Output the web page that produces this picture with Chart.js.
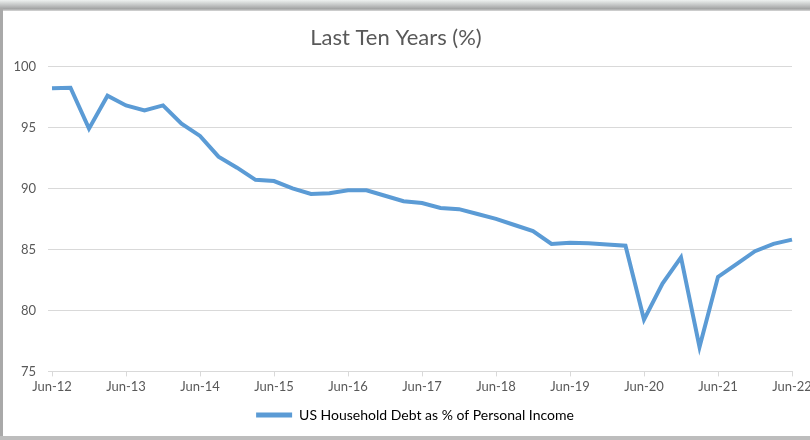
<!DOCTYPE html>
<html>
<head>
<meta charset="utf-8">
<script src="https://cdn.jsdelivr.net/npm/chart.js@4/dist/chart.umd.min.js"></script>
<style>
  body { margin: 0; background: #fff; }
  #wrap { position: relative; width: 810px; height: 440px; overflow: hidden; }
  #topband { position: absolute; left: 0; top: 0; width: 810px; height: 11px;
    background: linear-gradient(#eef1f0, #c4c6c6 45%, #a2a3a3 80%, #d8d8d8); }
  #leftband { position: absolute; left: 0; top: 8px; width: 3px; height: 432px; background: #a9a9a9; }
  #bottomband { position: absolute; left: 0; top: 436px; width: 810px; height: 4px; background: #bdbdbd; }
  canvas { position: absolute; left: 0; top: 0; }
</style>
</head>
<body>
<div id="wrap">
  <canvas id="debtChart" width="810" height="440"></canvas>
  <div id="topband"></div>
  <div id="leftband"></div>
  <div id="bottomband"></div>
</div>
<script>
const quarters = [
  "Jun-12", "Sep-12", "Dec-12", "Mar-13",
  "Jun-13", "Sep-13", "Dec-13", "Mar-14",
  "Jun-14", "Sep-14", "Dec-14", "Mar-15",
  "Jun-15", "Sep-15", "Dec-15", "Mar-16",
  "Jun-16", "Sep-16", "Dec-16", "Mar-17",
  "Jun-17", "Sep-17", "Dec-17", "Mar-18",
  "Jun-18", "Sep-18", "Dec-18", "Mar-19",
  "Jun-19", "Sep-19", "Dec-19", "Mar-20",
  "Jun-20", "Sep-20", "Dec-20", "Mar-21",
  "Jun-21", "Sep-21", "Dec-21", "Mar-22",
  "Jun-22"
];

// household debt as % of personal income, quarterly
const debtPct = [
  98.2, 98.25, 94.9, 97.6,
  96.8, 96.4, 96.8, 95.3,
  94.3, 92.6, 91.7, 90.7,
  90.6, 90.0, 89.55, 89.6,
  89.85, 89.85, 89.4, 88.95,
  88.8, 88.4, 88.3, 87.9,
  87.5, 87.0, 86.5, 85.45,
  85.55, 85.5, 85.4, 85.3,
  79.25, 82.2, 84.35, 77.0,
  82.75, 83.8, 84.85, 85.45,
  85.8
];

const yTicks = [75, 80, 85, 90, 95, 100];
const seriesName = "US Household Debt as % of Personal Income";
const chartTitle = "Last Ten Years (%)";

const lineBlue = "#5b9bd5";
const textGrey = "#595959";
const gridGrey = "#d9d9d9";
const fontFamily = "Lato, 'Open Sans', sans-serif";

// legend sits a little right of the canvas centre
const legendNudge = {
  id: "legendNudge",
  afterLayout(chart) {
    chart.legend.left += 19;
    chart.legend.right += 19;
  },
};

const ctx = document.getElementById("debtChart").getContext("2d");

new Chart(ctx, {
  type: "line",
  data: {
    labels: quarters,
    datasets: [
      {
        label: seriesName,
        data: debtPct,
        borderColor: lineBlue,
        backgroundColor: lineBlue,
        borderWidth: 4,
        pointRadius: 0,
        tension: 0,
      },
    ],
  },
  plugins: [legendNudge],
  options: {
    responsive: false,
    animation: false,
    layout: { padding: { left: 0, right: 18, top: 0, bottom: 8 } },
    plugins: {
      title: {
        display: true,
        text: chartTitle,
        color: textGrey,
        font: { family: fontFamily, size: 22, weight: "normal" },
        padding: { top: 25, bottom: 15 },
      },
      legend: {
        position: "bottom",
        labels: {
          color: textGrey,
          font: { family: fontFamily, size: 14 },
          boxWidth: 36,
          boxHeight: 5,
          padding: 10,
          generateLabels: (chart) => [
            {
              text: seriesName,
              fillStyle: lineBlue,
              strokeStyle: lineBlue,
              lineWidth: 0,
              datasetIndex: 0,
            },
          ],
        },
      },
      tooltip: { enabled: false },
    },
    scales: {
      x: {
        offset: false,
        // let the last label run off the right edge instead of shrinking the plot
        afterFit: (scale) => {
          scale.paddingLeft = 0;
          scale.paddingRight = 0;
        },
        grid: {
          drawOnChartArea: false,
          drawTicks: true,
          tickLength: 5,
          color: (c) => (c.index % 4 === 0 ? gridGrey : "rgba(0,0,0,0)"),
        },
        border: { display: true, color: gridGrey, width: 1 },
        ticks: {
          autoSkip: false,
          maxRotation: 0,
          padding: 3,
          color: textGrey,
          font: { family: fontFamily, size: 13 },
          callback: (val, i) => (i % 4 === 0 ? quarters[i] : ""),
        },
      },
      y: {
        min: yTicks[0],
        max: yTicks[yTicks.length - 1],
        afterFit: (scale) => {
          scale.width = 52;
        },
        afterBuildTicks: (scale) => {
          scale.ticks = yTicks.map((v) => ({ value: v }));
        },
        grid: { color: gridGrey, tickLength: 4, lineWidth: 1 },
        border: { display: false },
        ticks: {
          padding: 12,
          color: textGrey,
          font: { family: fontFamily, size: 13 },
        },
      },
    },
  },
});
</script>
</body>
</html>
